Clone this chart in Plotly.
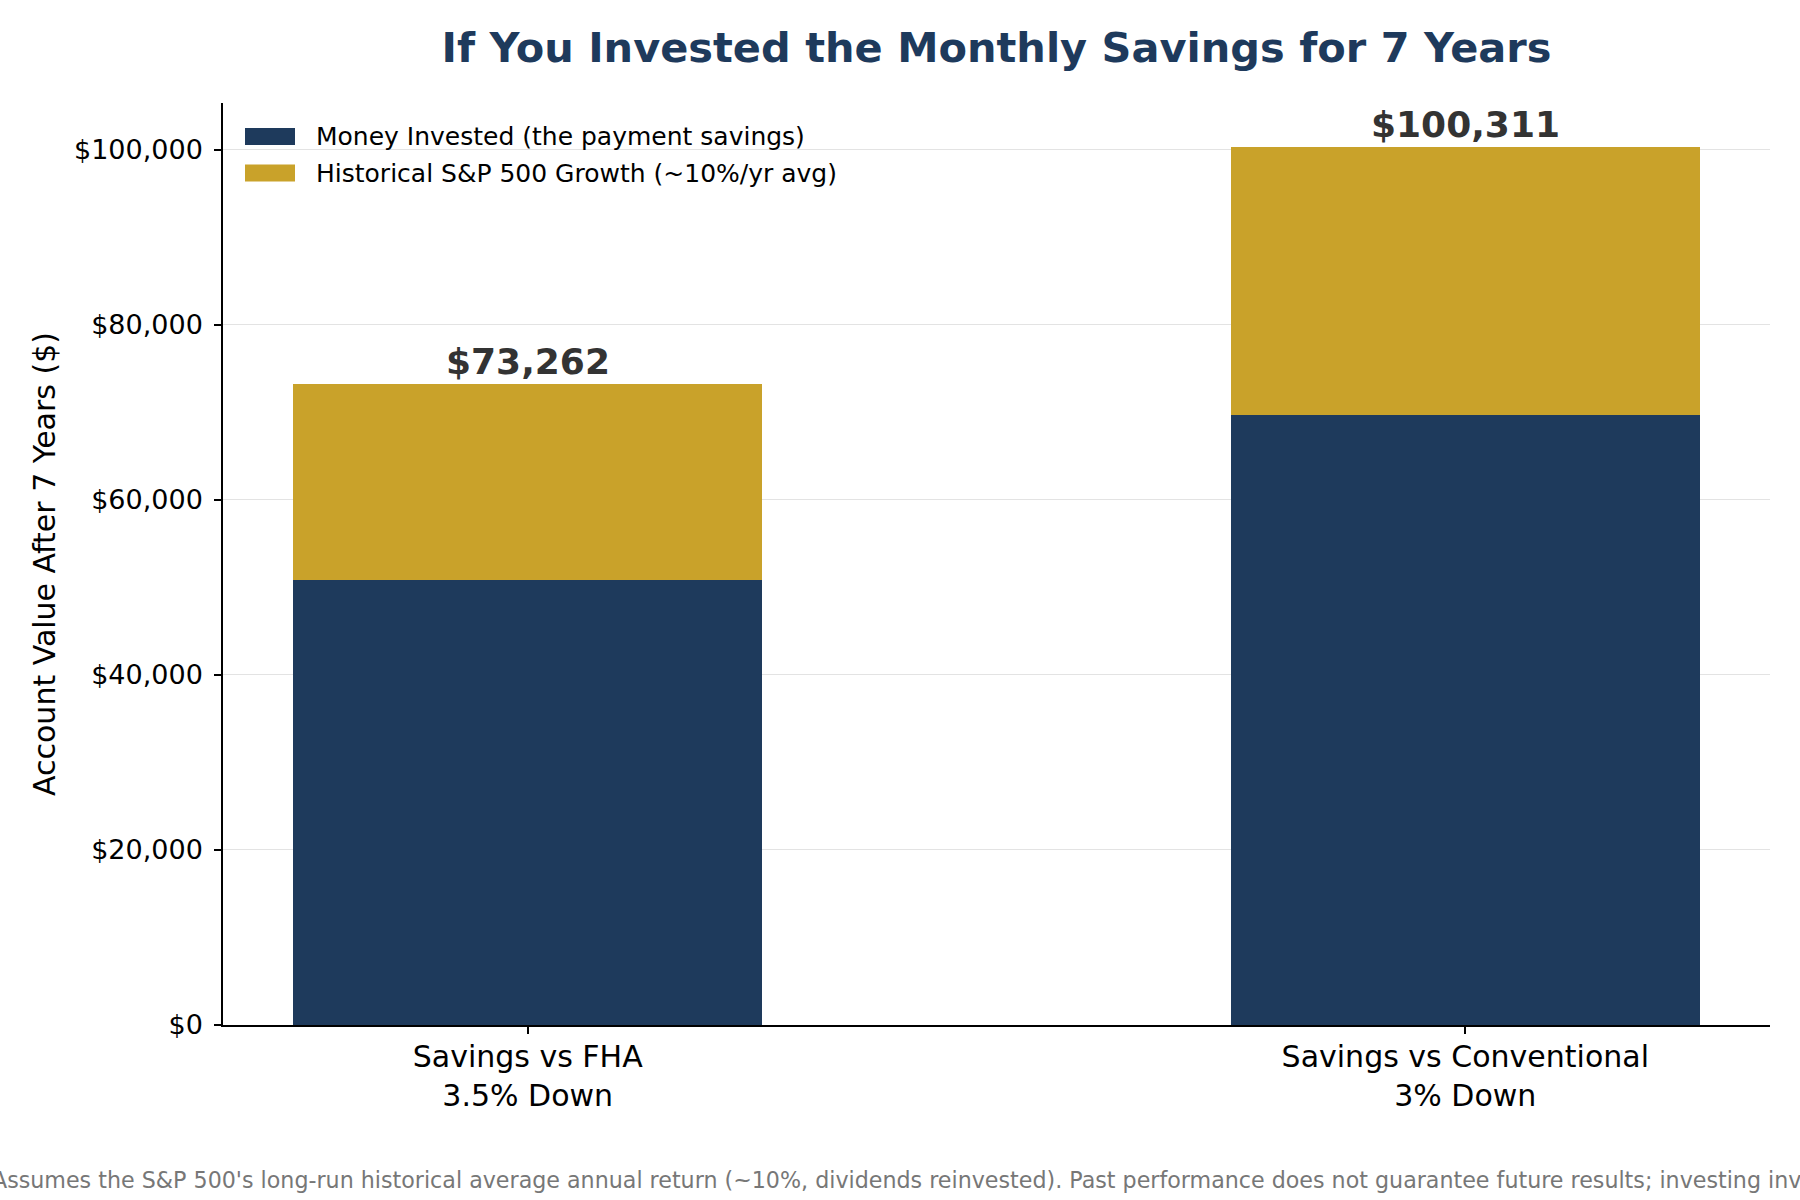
import plotly.graph_objects as go

categories = ["Savings vs FHA<br>3.5% Down", "Savings vs Conventional<br>3% Down"]
invested = [50880, 69665]
totals = [73262, 100311]
growth = [t - i for t, i in zip(totals, invested)]
total_labels = ["$73,262", "$100,311"]
series_names = ["Money Invested (the payment savings)", "Historical S&P 500 Growth (~10%/yr avg)"]
y_tickvals = [0, 20000, 40000, 60000, 80000, 100000]
y_ticktext = ["$0", "$20,000", "$40,000", "$60,000", "$80,000", "$100,000"]
footnote = ("Assumes the S&P 500's long-run historical average annual return (~10%, dividends reinvested). "
            "Past performance does not guarantee future results; investing involves risk of loss.")

NAVY = "#1e3a5c"
GOLD = "#c9a22a"
colors = [NAVY, GOLD]
FONT = "DejaVu Sans"

W, H = 1800, 1200
L, R, T, B = 223, 30, 103, 175
plot_w = W - L - R
plot_h = H - T - B

def px_x(p):
    return (p - L) / plot_w

def px_y(p):
    return (H - B - p) / plot_h

fig = go.Figure()
for name, vals, col in zip(series_names, [invested, growth], colors):
    fig.add_trace(go.Bar(x=categories, y=vals, name=name, marker=dict(color=col, line=dict(width=0)),
                         width=0.5, showlegend=False))

for c, t, lab in zip(categories, totals, total_labels):
    fig.add_annotation(x=c, y=t, text="<b>" + lab + "</b>", showarrow=False, yanchor="bottom", yshift=0,
                       font=dict(family=FONT, size=36, color="#333333"))

# legend (drawn manually to match rectangular patches)
legend_rows = [136.5, 173]
for name, col, yc in zip(series_names, colors, legend_rows):
    fig.add_shape(type="rect", xref="paper", yref="paper", x0=px_x(245), x1=px_x(295),
                  y0=px_y(yc + 8.5), y1=px_y(yc - 8.5), fillcolor=col, line=dict(width=0), layer="above")
    fig.add_annotation(xref="paper", yref="paper", x=px_x(314), y=px_y(yc), xanchor="left", yanchor="middle",
                       text=name, showarrow=False, font=dict(family=FONT, size=25, color="black"))

fig.add_annotation(xref="paper", yref="paper", x=px_x(-10), y=px_y(1180),
                   xanchor="left", yanchor="middle", text=footnote, showarrow=False,
                   font=dict(family=FONT, size=22.2, color="#777777"))

fig.update_layout(
    width=W, height=H, barmode="stack",
    margin=dict(l=L, r=R, t=T, b=B),
    paper_bgcolor="white", plot_bgcolor="white",
    font=dict(family=FONT, color="black"),
    title=dict(text="<b>If You Invested the Monthly Savings for 7 Years</b>", x=(L + plot_w / 2) / W, xanchor="center",
               y=1 - 47 / H, yanchor="middle", font=dict(family=FONT, size=41.5, color=NAVY)),
    showlegend=False,
)
fig.update_xaxes(range=[-0.325, 1.325], showline=True, linecolor="black", linewidth=1.5, ticks="outside",
                 ticklen=7, tickwidth=1.5, tickcolor="black", tickfont=dict(family=FONT, size=30, color="black"),
                 showgrid=False, mirror=False, ticklabelstandoff=-3)
fig.update_yaxes(range=[0, 105327], showline=True, linecolor="black", linewidth=1.5, ticks="outside",
                 ticklen=7, tickwidth=1.5, tickcolor="black", tickfont=dict(family=FONT, size=27, color="black"),
                 tickvals=y_tickvals, ticktext=y_ticktext,
                 showgrid=True, gridcolor="#e3e3e3", gridwidth=1.2, zeroline=False, ticklabelstandoff=6,
                 title=dict(text="Account Value After 7 Years ($)", font=dict(family=FONT, size=30, color="black"), standoff=10))

fig.write_html("out.html")
